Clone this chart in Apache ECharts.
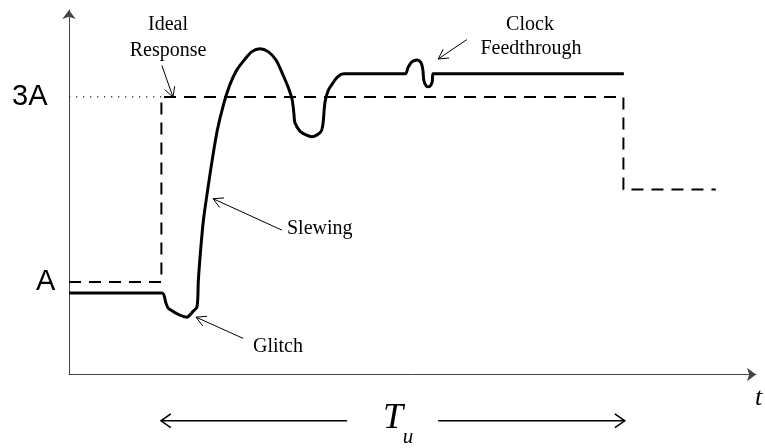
<!DOCTYPE html>
<html><head><meta charset="utf-8">
<script src="https://cdn.jsdelivr.net/npm/echarts@6/dist/echarts.min.js"></script>
<style>html,body{margin:0;padding:0;background:#fff}#c{width:765px;height:448px}</style>
</head><body><div id="c"></div>
<script>
// time in units (step at t=2, ideal fall at t=12), level in units of A
const idealResponse = [[0,1],[2,1],[2,3],[12,3],[12,2],[14,2]];
const fullScaleGuide = [[0,3],[2,3]];
const actualResponse = [
  [0,0.88],[2.01,0.88],[2.10,0.77],[2.16,0.71],[2.55,0.62],[2.68,0.68],[2.77,0.73],
  [2.80,1.02],[2.85,1.35],[2.91,1.67],[3.00,1.99],[3.10,2.32],[3.21,2.64],[3.34,2.91],
  [3.48,3.13],[3.63,3.29],[3.81,3.41],[3.96,3.49],[4.13,3.52],[4.31,3.49],
  [4.48,3.40],[4.63,3.24],[4.74,3.11],[4.83,2.97],[4.87,2.81],[4.89,2.72],[5.00,2.63],
  [5.13,2.59],[5.26,2.57],[5.37,2.59],[5.46,2.63],[5.50,2.72],[5.54,2.94],[5.61,3.07],
  [5.71,3.15],[5.82,3.22],[5.95,3.25],[7.27,3.25],[7.34,3.32],[7.42,3.38],[7.53,3.40],
  [7.62,3.37],[7.66,3.29],[7.68,3.18],[7.73,3.12],[7.79,3.11],[7.86,3.16],[7.88,3.25],
  [12.01,3.25]
];
const levelLabels = ['3A','A'];
const callouts = [
  {lines:['Ideal','Response'], from:[2.01,3.34], to:[2.25,3.0]},
  {lines:['Clock','Feedthrough'], from:[8.61,3.62], to:[7.99,3.41]},
  {lines:['Slewing'], from:[4.61,1.56], to:[3.12,1.90]},
  {lines:['Glitch'], from:[3.77,0.39], to:[2.75,0.62]}
];
const periodArrows = [
  {from:[6.02,-0.50], to:[1.99,-0.50]},
  {from:[7.99,-0.50], to:[12.03,-0.50]}
];

const axisCommon = {
  type:'value', splitLine:{show:false}, axisTick:{show:false}, axisLabel:{show:false},
  axisLine:{show:true, symbol:['none','arrow'], symbolSize:[10,9], lineStyle:{color:'#444', width:1}}
};
const chart = echarts.init(document.getElementById('c'), null, {renderer:'canvas'});
chart.setOption({
  animation:false,
  grid:{left:69, right:9, top:10, bottom:73.5},
  xAxis:Object.assign({min:0, max:14.87}, axisCommon),
  yAxis:Object.assign({min:0, max:3.94}, axisCommon),
  series:[
    {type:'line', data:fullScaleGuide, symbol:'none', silent:true,
     lineStyle:{color:'#222', width:1.3, type:[1.3,5.7]}},
    {type:'line', data:idealResponse, symbol:'none', silent:true,
     lineStyle:{color:'#000', width:2, type:[12,8]}},
    {type:'line', data:actualResponse, symbol:'none', silent:true, smooth:0.3,
     lineStyle:{color:'#000', width:3, join:'round'}}
  ]
});

const px = p => chart.convertToPixel({gridIndex:0}, p);
function arrow(a, b, len, ang, w) {
  const A = px(a), B = px(b);
  const dx = B[0]-A[0], dy = B[1]-A[1], d = Math.hypot(dx,dy), ux = dx/d, uy = dy/d;
  const rot = s => [B[0] - len*(ux*Math.cos(s*ang) - uy*Math.sin(s*ang)),
                    B[1] - len*(uy*Math.cos(s*ang) + ux*Math.sin(s*ang))];
  return [
    {type:'line', shape:{x1:A[0],y1:A[1],x2:B[0],y2:B[1]}, style:{stroke:'#000', lineWidth:w}, silent:true},
    {type:'polyline', shape:{points:[rot(1), B, rot(-1)]}, style:{stroke:'#000', lineWidth:w, fill:null}, silent:true}
  ];
}
function txt(t, x, y, font, align) {
  return {type:'text', silent:true, style:{text:t, x:x, y:y, font:font, fill:'#000',
    textAlign:align||'center', align:align||'center', textVerticalAlign:'middle', verticalAlign:'middle'}};
}
const serif = '20px "Liberation Serif"';
const g = [];
callouts.forEach(c => g.push(...arrow(c.from, c.to, 11, 0.5, 1)));
periodArrows.forEach(c => g.push(...arrow(c.from, c.to, 12, 0.6, 1.5)));
const p3 = px([0,3]), p1 = px([0,1]);
g.push(txt(levelLabels[0], 12, p3[1], '29px "Liberation Sans"', 'left'));
g.push(txt(levelLabels[1], 36, p1[1], '29px "Liberation Sans"', 'left'));
g.push(txt(callouts[0].lines[0], 168, 25, serif));
g.push(txt(callouts[0].lines[1], 168, 51, serif));
g.push(txt(callouts[1].lines[0], 530, 25, serif));
g.push(txt(callouts[1].lines[1], 531, 49, serif));
g.push(txt(callouts[2].lines[0], 287, 229, serif, 'left'));
g.push(txt(callouts[3].lines[0], 253, 347, serif, 'left'));
g.push(txt('t', 755, 398, 'italic 26px "Liberation Serif"', 'left'));
g.push(txt('T', 393, 419, 'italic 36px "Liberation Serif"'));
g.push(txt('u', 408, 437, 'italic 21px "Liberation Serif"'));
chart.setOption({graphic:{elements:g}});
</script></body></html>
